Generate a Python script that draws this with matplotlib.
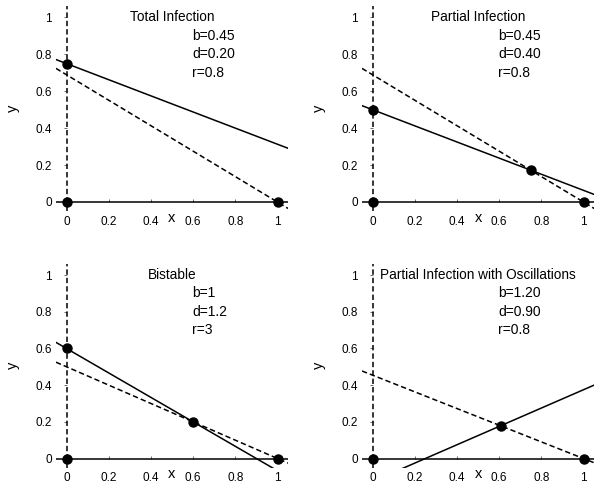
import matplotlib
matplotlib.use("Agg")
import matplotlib.pyplot as plt

plt.rcParams['font.family'] = ['Liberation Sans', 'DejaVu Sans']

# ---- data ----
titles = ["Total Infection", "Partial Infection", "Bistable",
          "Partial Infection with Oscillations"]
param_b = ["b=0.45", "b=0.45", "b=1", "b=1.20"]
param_d = ["d=0.20", "d=0.40", "d=1.2", "d=0.90"]
param_r = ["r=0.8", "r=0.8", "r=3", "r=0.8"]

# solid (y-nullcline) line endpoints
solid_x = [[-0.05, 1.05], [-0.05, 1.05], [-0.05, 1.05], [-0.05, 1.05]]
solid_y = [[0.772, 0.291], [0.522, 0.041], [0.633, -0.10], [-0.150, 0.400]]
# dashed (x-nullcline) line endpoints
dashed_x = [[-0.05, 1.05], [-0.05, 1.05], [-0.05, 1.05], [-0.05, 1.05]]
dashed_y = [[0.724, -0.035], [0.724, -0.035], [0.525, -0.025], [0.477, -0.023]]
# equilibrium points
eq_x = [[0, 0, 1], [0, 0, 1, 0.752], [0, 0, 0.6, 1], [0, 0.607, 1]]
eq_y = [[0, 0.75, 0], [0, 0.5, 0, 0.171], [0, 0.6, 0.2, 0], [0, 0.179, 0]]

xticks = [0, 0.2, 0.4, 0.6, 0.8, 1]
xticklabels = ["0", "0.2", "0.4", "0.6", "0.8", "1"]
yticks = [0, 0.2, 0.4, 0.6, 0.8, 1]
yticklabels = ["0", "0.2", "0.4", "0.6", "0.8", "1"]

W, H = 601, 491
fig = plt.figure(figsize=(W / 100, H / 100), dpi=100)

col_left = [55.95 / W, 362 / W]
col_w = 232.1 / W
row_bottom = [1 - 211.2 / H, 1 - 467.7 / H]
row_h = [204.8 / H, 203.7 / H]

dash = (0, (3.5, 2.0))
for i in range(4):
    r, c = divmod(i, 2)
    ax = fig.add_axes([col_left[c], row_bottom[r], col_w, row_h[r]])
    ax.set_xlim(-0.05, 1.05)
    ax.set_ylim(-0.05, 1.06)
    for s in ["top", "right", "bottom", "left"]:
        ax.spines[s].set_visible(False)
    ax.patch.set_visible(False)

    ax.axhline(0, color="black", lw=1.1, zorder=2)
    ax.axvline(0, color="black", lw=1.1, ls=dash, zorder=2)

    ax.plot(solid_x[i], solid_y[i], color="black", lw=1.1, zorder=3)
    ax.plot(dashed_x[i], dashed_y[i], color="black", lw=1.1, ls=dash, zorder=3)
    ax.plot(eq_x[i], eq_y[i], "o", color="black", ms=6.5, zorder=5, clip_on=False)

    ax.spines["bottom"].set_position(("data", 0))
    ax.spines["left"].set_position(("data", 0))
    ax.set_xticks(xticks)
    ax.set_xticklabels(xticklabels)
    ax.set_yticks(yticks)
    ax.set_yticklabels(yticklabels)
    ax.tick_params(axis="x", direction="in", length=2, width=0.6,
                   color="#555555", pad=10, labelsize=8.5)
    ax.tick_params(axis="y", direction="out", length=2, width=0.6,
                   color="#555555", pad=8.5, labelsize=8.5)

    ax.text(0.5, 1.0, titles[i], ha="center", va="center", fontsize=9.8)
    ax.text(0.595, 0.9, param_b[i], ha="left", va="center", fontsize=10)
    ax.text(0.595, 0.8, param_d[i], ha="left", va="center", fontsize=10)
    ax.text(0.595, 0.7, param_r[i], ha="left", va="center", fontsize=10)

    ax.text(0.5, -0.085, "x", ha="center", va="center", fontsize=10.5,
            clip_on=False)
    ax.text(-0.255, 0.51, "y", ha="center", va="center", fontsize=10.5,
            rotation=90, clip_on=False)

fig.savefig("out.png", dpi=100)
